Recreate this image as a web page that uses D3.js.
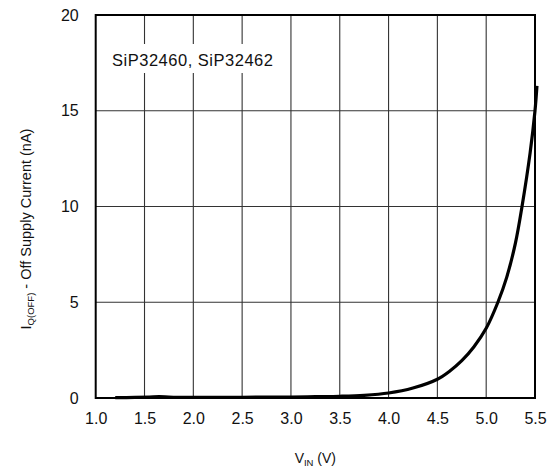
<!DOCTYPE html>
<html>
<head>
<meta charset="utf-8">
<script src="https://cdn.jsdelivr.net/npm/d3@7"></script>
<style>
  html, body { margin: 0; padding: 0; background: #fff; }
  svg { display: block; font-family: Arial, "Liberation Sans", Helvetica, sans-serif; }
</style>
</head>
<body>
<svg id="chart" width="550" height="470"></svg>
<script>
// Off supply current vs. input voltage
const vin = [1.2, 1.4, 1.55, 1.65, 1.75, 1.9, 2.0, 2.5, 3.0, 3.25, 3.5, 3.75, 4.0, 4.25, 4.5, 4.625, 4.75, 4.875, 5.0, 5.12, 5.21, 5.3, 5.367, 5.45, 5.5, 5.52];
const iqOff = [0.02, 0.03, 0.05, 0.07, 0.05, 0.03, 0.03, 0.04, 0.05, 0.07, 0.09, 0.14, 0.26, 0.52, 0.98, 1.4, 1.95, 2.68, 3.64, 5.0, 6.3, 8.1, 10.0, 12.8, 15.0, 16.3];

const xTicks = [1.0, 1.5, 2.0, 2.5, 3.0, 3.5, 4.0, 4.5, 5.0, 5.5];
const yTicks = [0, 5, 10, 15, 20];
const deviceLabel = "SiP32460, SiP32462";

const svg = d3.select("#chart");
const plot = { left: 95.7, right: 535, top: 15, bottom: 398 };

const x = d3.scaleLinear().domain([1.0, 5.5]).range([plot.left, plot.right]);
const y = d3.scaleLinear().domain([0, 20]).range([plot.bottom, plot.top]);

// grid
const grid = svg.append("g");
grid.selectAll("line.v").data(xTicks.slice(1, -1)).join("line")
  .attr("x1", d => x(d)).attr("x2", d => x(d))
  .attr("y1", plot.top).attr("y2", plot.bottom)
  .attr("stroke", "#333").attr("stroke-width", 1.1);
grid.selectAll("line.h").data(yTicks.slice(1, -1)).join("line")
  .attr("x1", plot.left).attr("x2", plot.right)
  .attr("y1", d => y(d)).attr("y2", d => y(d))
  .attr("stroke", "#333").attr("stroke-width", 1.1);

// label box masks the grid behind the device names
svg.append("rect")
  .attr("x", 100).attr("y", 44).attr("width", 182).attr("height", 29)
  .attr("fill", "#fff");
svg.append("text")
  .attr("x", 112).attr("y", 66)
  .attr("font-size", 16.5).attr("fill", "#111")
  .attr("textLength", 161).attr("lengthAdjust", "spacing")
  .text(deviceLabel);

// frame
svg.append("rect")
  .attr("x", plot.left).attr("y", plot.top)
  .attr("width", plot.right - plot.left).attr("height", plot.bottom - plot.top)
  .attr("fill", "none").attr("stroke", "#000").attr("stroke-width", 2);

// curve
const line = d3.line().x(d => x(d[0])).y(d => y(d[1])).curve(d3.curveCatmullRom.alpha(0.5));
svg.append("path")
  .datum(vin.map((v, i) => [v, iqOff[i]]))
  .attr("d", line)
  .attr("fill", "none").attr("stroke", "#000").attr("stroke-width", 3.2)
  .attr("stroke-linejoin", "round");

// axes (labels only; lines drawn by the frame and grid)
const xAxis = d3.axisBottom(x).tickValues(xTicks).tickFormat(d3.format(".1f")).tickSize(0).tickPadding(15);
const gx = svg.append("g").attr("transform", `translate(0,${plot.bottom})`).call(xAxis);
gx.select(".domain").remove();
gx.selectAll("text").attr("font-size", 16).attr("fill", "#111").attr("font-family", null);

const yAxis = d3.axisLeft(y).tickValues(yTicks).tickFormat(d3.format("d")).tickSize(0).tickPadding(17);
const gy = svg.append("g").attr("transform", `translate(${plot.left},0)`).call(yAxis);
gy.select(".domain").remove();
gy.selectAll("text").attr("font-size", 16).attr("fill", "#111").attr("font-family", null);

// x-axis title
const xt = svg.append("text")
  .attr("x", (plot.left + plot.right) / 2).attr("y", 463)
  .attr("text-anchor", "middle").attr("font-size", 14).attr("fill", "#111");
xt.append("tspan").text("V");
xt.append("tspan").attr("font-size", 9.5).attr("dy", 3).text("IN");
xt.append("tspan").attr("dy", -3).text(" (V)");

// y-axis title
const yt = svg.append("text")
  .attr("transform", `translate(31,229) rotate(-90)`)
  .attr("font-size", 14.5).attr("fill", "#111")
  .attr("text-anchor", "middle");
yt.append("tspan").text("I");
yt.append("tspan").attr("font-size", 9.5).attr("dy", 3).text("Q(OFF)");
yt.append("tspan").attr("dy", -3).text(" - Off Supply Current (nA)");
</script>
</body>
</html>
